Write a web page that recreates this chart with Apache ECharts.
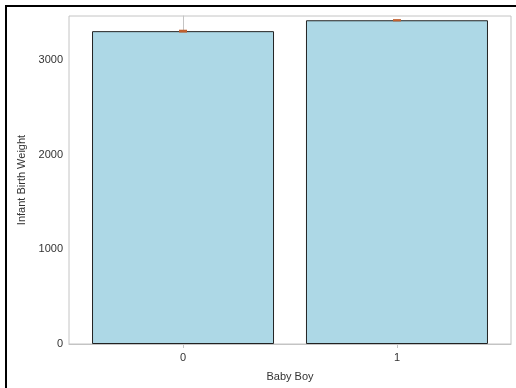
<!DOCTYPE html>
<html><head><meta charset="utf-8">
<script src="https://cdn.jsdelivr.net/npm/echarts@6/dist/echarts.min.js"></script>
<style>html,body{margin:0;padding:0;background:#fff;}#c{width:516px;height:388px;}</style>
</head><body><div id="c"></div>
<script>
const categories = ['0', '1'];
const catPositions = [0, 1];
const meanWeight = [3305, 3420];
const ciLower = [3290, 3408];
const ciUpper = [3320, 3432];
const yTicks = [0, 1000, 2000, 3000];

const chart = echarts.init(document.getElementById('c'), null, {renderer: 'canvas'});
const font = 'Liberation Sans, Arial, sans-serif';
const axisGray = '#c4c4c4';
const textColor = '#333';

const barData = catPositions.map((p, i) => [p, meanWeight[i]]);
const errData = catPositions.map((p, i) => [p, ciLower[i], ciUpper[i]]);

chart.setOption({
  animation: false,
  backgroundColor: '#fff',
  grid: {left: 69, right: 5, top: 16, bottom: 44, show: true, borderColor: axisGray, borderWidth: 1},
  xAxis: {
    type: 'value', min: -0.533, max: 1.533,
    name: 'Baby Boy', nameLocation: 'middle', nameGap: 27,
    nameTextStyle: {fontFamily: font, fontSize: 11, color: textColor},
    splitLine: {show: false},
    axisLine: {show: true, lineStyle: {color: axisGray}},
    axisTick: {show: true, length: 4, lineStyle: {color: axisGray}, customValues: catPositions},
    axisLabel: {fontFamily: font, fontSize: 11, color: textColor, margin: 8, customValues: catPositions,
      formatter: v => categories[catPositions.indexOf(Math.round(v))] ?? ''}
  },
  yAxis: {
    type: 'value', min: 0, max: 3465,
    name: 'Infant Birth Weight', nameLocation: 'middle', nameGap: 36,
    nameTextStyle: {fontFamily: font, fontSize: 11, color: textColor},
    nameRotate: 90,
    splitLine: {show: false},
    axisLine: {show: true, lineStyle: {color: axisGray}},
    axisTick: {show: true, length: 5, lineStyle: {color: axisGray}, customValues: yTicks},
    axisLabel: {fontFamily: font, fontSize: 11, color: textColor, margin: 6, customValues: yTicks,
      formatter: v => String(v)}
  },
  graphic: [{
    type: 'rect', shape: {x: 6, y: 6, width: 700, height: 600},
    style: {fill: 'none', stroke: '#000', lineWidth: 2}, silent: true, z: 100
  }],
  series: [{
    type: 'bar', data: barData, barWidth: 182,
    itemStyle: {color: '#ADD8E6', borderColor: '#222', borderWidth: 1}
  }, {
    type: 'custom', data: errData, z: 10,
    renderItem: (params, api) => {
      const x = api.value(0);
      const lo = api.coord([x, api.value(1)]);
      const hi = api.coord([x, api.value(2)]);
      return {type: 'rect', shape: {x: lo[0] - 4, y: hi[1], width: 8, height: Math.max(2, lo[1] - hi[1])},
        style: {fill: '#c0602f'}};
    }
  }]
});
</script></body></html>
